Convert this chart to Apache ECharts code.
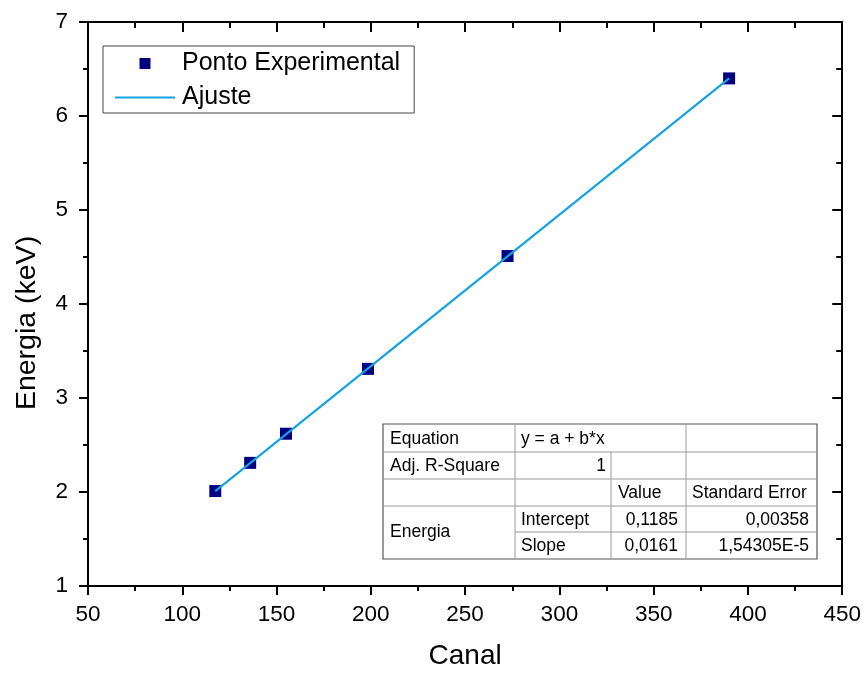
<!DOCTYPE html>
<html>
<head>
<meta charset="utf-8">
<script src="https://cdn.jsdelivr.net/npm/echarts@6/dist/echarts.min.js"></script>
<style>
  html, body { margin: 0; padding: 0; background: #fff; }
  #chart { width: 864px; height: 675px; }
</style>
</head>
<body>
<div id="chart"></div>
<script>
// Calibration points: channel vs. energy
const canal = [117.5, 136, 155, 198.5, 272.5, 390];
const energia = [2.01, 2.31, 2.62, 3.31, 4.51, 6.40];

// Linear fit line endpoints
const ajusteCanal = [117.5, 390];
const ajusteEnergia = [2.01, 6.40];

// Axis ranges and tick spacing
const xRange = [50, 450];
const xStep = 50;
const yRange = [1, 7];
const yStep = 1;

// Fit result table rows
const tableRows = [
  ['Equation', 'y = a + b*x', '', ''],
  ['Adj. R-Square', '1', '', ''],
  ['', '', 'Value', 'Standard Error'],
  ['Energia', 'Intercept', '0,1185', '0,00358'],
  ['', 'Slope', '0,0161', '1,54305E-5']
];

const FONT = '"Liberation Sans", Arial, sans-serif';
const LINE_COLOR = '#14a3e0';
const POINT_COLOR = '#000080';
const chart = echarts.init(document.getElementById('chart'), null, { renderer: 'canvas' });

const axisLine = { show: true, onZero: false, lineStyle: { color: '#000', width: 2 } };

function mainAxis(range, step, extra) {
  return Object.assign({
    type: 'value', min: range[0], max: range[1], interval: step,
    axisLine: axisLine,
    axisTick: { show: true, inside: false, length: 9, lineStyle: { color: '#000', width: 2 } },
    minorTick: { show: true, splitNumber: 2, length: 5, lineStyle: { color: '#000', width: 2 } },
    splitLine: { show: false },
    nameTextStyle: { color: '#000', fontFamily: FONT, fontSize: 28 }
  }, extra);
}

function mirrorAxis(range, step, extra) {
  return Object.assign({
    type: 'value', min: range[0], max: range[1], interval: step,
    axisLine: axisLine,
    axisTick: { show: true, inside: true, length: 10, lineStyle: { color: '#000', width: 2 } },
    minorTick: { show: true, splitNumber: 2, length: 6, lineStyle: { color: '#000', width: 2 } },
    splitLine: { show: false },
    axisLabel: { show: false }
  }, extra);
}

// Table geometry (pixels)
const colX = [383, 515, 611, 686, 817];
const rowY = [424, 452, 479, 506, 532, 559];

function buildTable() {
  const els = [];
  const innerStroke = { stroke: '#9a9a9a', lineWidth: 1 };
  els.push({ type: 'rect', shape: { x: colX[0], y: rowY[0], width: colX[4] - colX[0], height: rowY[5] - rowY[0] },
    style: { fill: '#fff', stroke: '#555', lineWidth: 1.2 }, z: 10 });
  // horizontal lines (the "Energia" cell spans the last two rows)
  for (let r = 1; r < 5; r++) {
    const x1 = (r === 4) ? colX[1] : colX[0];
    els.push({ type: 'line', shape: { x1: x1, y1: rowY[r], x2: colX[4], y2: rowY[r] }, style: innerStroke, z: 11 });
  }
  // vertical lines (the equation cell spans columns 2-3)
  els.push({ type: 'line', shape: { x1: colX[1], y1: rowY[0], x2: colX[1], y2: rowY[5] }, style: innerStroke, z: 11 });
  els.push({ type: 'line', shape: { x1: colX[2], y1: rowY[1], x2: colX[2], y2: rowY[5] }, style: innerStroke, z: 11 });
  els.push({ type: 'line', shape: { x1: colX[3], y1: rowY[0], x2: colX[3], y2: rowY[5] }, style: innerStroke, z: 11 });

  const ts = (text, x, y, align) => ({
    type: 'text', x: x, y: y, z: 12,
    style: { text: text, fill: '#000', font: '17.5px ' + FONT, align: align || 'left', verticalAlign: 'middle' }
  });
  const rc = r => (rowY[r] + rowY[r + 1]) / 2 + 1;
  els.push(ts(tableRows[0][0], colX[0] + 7, rc(0)));
  els.push(ts(tableRows[0][1], colX[1] + 6, rc(0)));
  els.push(ts(tableRows[1][0], colX[0] + 7, rc(1)));
  els.push(ts(tableRows[1][1], colX[2] - 5, rc(1), 'right'));
  els.push(ts(tableRows[2][2], colX[2] + 7, rc(2)));
  els.push(ts(tableRows[2][3], colX[3] + 6, rc(2)));
  els.push(ts(tableRows[3][0], colX[0] + 7, rowY[4]));
  els.push(ts(tableRows[3][1], colX[1] + 6, rc(3)));
  els.push(ts(tableRows[3][2], colX[3] - 8, rc(3), 'right'));
  els.push(ts(tableRows[3][3], colX[4] - 8, rc(3), 'right'));
  els.push(ts(tableRows[4][1], colX[1] + 6, rc(4)));
  els.push(ts(tableRows[4][2], colX[3] - 8, rc(4), 'right'));
  els.push(ts(tableRows[4][3], colX[4] - 8, rc(4), 'right'));
  return els;
}

const option = {
  backgroundColor: '#fff',
  animation: false,
  grid: { left: 88, right: 21, top: 22, bottom: 89, containLabel: false },
  legend: {
    left: 103, top: 46, orient: 'vertical',
    padding: [5, 14, 3, 12],
    itemWidth: 60, itemHeight: 11, itemGap: 9,
    symbolKeepAspect: true,
    borderColor: '#444', borderWidth: 1,
    textStyle: { color: '#000', fontFamily: FONT, fontSize: 25, padding: [0, 0, 0, 2] },
    data: [
      { name: 'Ponto Experimental', icon: 'path://M0,0L10,0L10,10L0,10Z' },
      { name: 'Ajuste', icon: 'path://M0,0L60,0L60,2.2L0,2.2Z' }
    ]
  },
  xAxis: [
    mainAxis(xRange, xStep, { position: 'bottom', name: 'Canal', nameLocation: 'middle', nameGap: 56,
      axisLabel: { color: '#000', fontFamily: FONT, fontSize: 22.5, margin: 17 } }),
    mirrorAxis(xRange, xStep, { position: 'top' })
  ],
  yAxis: [
    mainAxis(yRange, yStep, { position: 'left', name: 'Energia (keV)', nameLocation: 'middle', nameGap: 46,
      nameTextStyle: { color: '#000', fontFamily: FONT, fontSize: 28.5, padding: [0, 38, 0, 0] },
      axisLabel: { color: '#000', fontFamily: FONT, fontSize: 22.5, margin: 20 } }),
    mirrorAxis(yRange, yStep, { position: 'right' })
  ],
  series: [
    {
      name: 'Ajuste', type: 'line', xAxisIndex: 0, yAxisIndex: 0,
      data: ajusteCanal.map((c, i) => [c, ajusteEnergia[i]]),
      symbol: 'none', z: 3,
      lineStyle: { color: LINE_COLOR, width: 2.2 },
      itemStyle: { color: LINE_COLOR }
    },
    {
      name: 'Ponto Experimental', type: 'scatter', xAxisIndex: 0, yAxisIndex: 0,
      data: canal.map((c, i) => [c, energia[i]]),
      symbol: 'rect', symbolSize: 12, z: 2,
      itemStyle: { color: POINT_COLOR, borderWidth: 0, opacity: 1 }
    }
  ],
  graphic: buildTable()
};

chart.setOption(option);
</script>
</body>
</html>
